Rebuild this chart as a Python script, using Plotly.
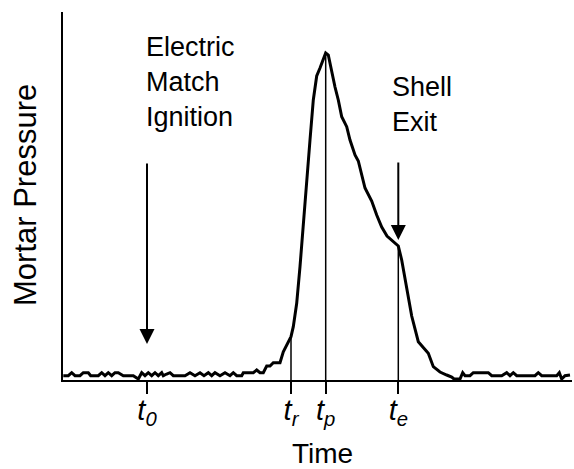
import numpy as np
import plotly.graph_objects as go

# Time (arbitrary units) and mortar pressure (arbitrary units)
time = [0.3, 5.3, 8.7, 12, 17, 20.3, 25.3, 27.7, 35.3, 38.7, 42, 45.3, 48.7, 52, 55.3,
        60.3, 70.3, 75.3, 78.7, 82, 85.3, 88.7, 92, 95.3, 98.7, 100.3, 103.7, 107, 110.3,
        122, 127, 132, 137, 141, 145.3, 148.7, 152, 157, 162, 167, 170.3, 173.7, 178.7,
        180.3, 190.3, 193.7, 197, 200.3, 203.7, 207, 210.3, 217, 220.3, 225.3, 228,
        230.3, 233.7, 237, 240.3, 243.7, 247, 250.3, 253.7, 257, 260.3, 262.7, 265.3,
        268.7, 272, 275.3, 278.7, 283.7, 287, 292, 295.3, 302, 308.7, 313.7, 318.7, 324,
        330, 335.3, 338.7, 343.7, 348.7, 355.3, 365.3, 370.3, 377, 383.7, 388.7, 391,
        397, 399.7, 402, 407, 410.3, 425.3, 428.7, 438.7, 443.7, 447, 450.3, 453.7, 472,
        475.3, 478.7, 493.7, 496.3, 498.7, 502, 507]
pressure = [4.3, 4.3, 7.3, 4.3, 4.3, 7.3, 7.3, 4.3, 4.3, 7.3, 4.3, 7.3, 4.3, 7.3, 7.3,
            4.3, 4.3, 1.0, 7.3, 4.3, 7.3, 4.3, 7.3, 4.3, 7.3, 4.3, 6.0, 7.3, 4.3,
            4.3, 7.3, 4.3, 7.3, 4.3, 7.3, 4.3, 7.3, 4.3, 7.3, 4.3, 7.3, 4.3, 4.3,
            7.3, 7.3, 10, 7.3, 7.3, 14, 14, 17.3, 17.3, 28.3, 38.3, 43.3,
            53.3, 76.7, 113.3, 155, 207, 240, 280, 304, 312, 320, 327, 325,
            308, 293, 280, 263.3, 253.3, 240, 225, 219, 192, 179, 165, 153, 144,
            139, 134, 120, 92, 64, 38.3, 26.7, 13.3, 8, 5, 3, 1,
            1, 7.3, 4.3, 4.3, 7.3, 7.3, 4.3, 4.3, 7.3, 4.3, 7.3, 4.3, 4.3,
            7.3, 4.3, 4.3, 7.3, 1.0, 4.3, 5]

# Event times
event_times = [84, 228, 262.7, 335.3]
event_labels = ["<i>t</i><sub><i>0</i></sub>", "<i>t</i><sub><i>r</i></sub>",
                "<i>t</i><sub><i>p</i></sub>", "<i>t</i><sub><i>e</i></sub>"]
marked_events = [228, 262.7, 335.3]  # events with a drop line from the curve

annot_texts = ["Electric<br>Match<br>Ignition", "Shell<br>Exit"]
x_title = "Time"
y_title = "Mortar Pressure"

FONT = "Arial, Liberation Sans, sans-serif"

fig = go.Figure()
fig.add_trace(go.Scatter(x=time, y=pressure, mode="lines",
                         line=dict(color="black", width=3), hoverinfo="skip"))

# drop lines from curve to axis
for t in marked_events:
    yv = float(np.interp(t, time, pressure))
    fig.add_shape(type="line", xref="x", yref="y", x0=t, x1=t, y0=0, y1=yv,
                  line=dict(color="black", width=1.5))

# arrows
fig.add_annotation(x=event_times[0], y=36, ax=event_times[0], ay=218,
                   xref="x", yref="y", axref="x", ayref="y", text="",
                   showarrow=True, arrowhead=2, arrowsize=1.5, arrowwidth=2,
                   arrowcolor="black")
fig.add_annotation(x=event_times[3], y=140, ax=event_times[3], ay=219,
                   xref="x", yref="y", axref="x", ayref="y", text="",
                   showarrow=True, arrowhead=2, arrowsize=1.5, arrowwidth=2,
                   arrowcolor="black")

# text labels
fig.add_annotation(x=81, y=350, xref="x", yref="y", text=annot_texts[0],
                   showarrow=False, xanchor="left", yanchor="top", align="left",
                   font=dict(family=FONT, size=27, color="black"))
fig.add_annotation(x=327, y=310, xref="x", yref="y", text=annot_texts[1],
                   showarrow=False, xanchor="left", yanchor="top", align="left",
                   font=dict(family=FONT, size=27, color="black"))

# axis titles
fig.add_annotation(x=(322 - 63) / 509, y=(380 - 453) / 368, xref="paper", yref="paper",
                   text=x_title, showarrow=False, xanchor="center", yanchor="middle",
                   font=dict(family=FONT, size=28, color="black"))
fig.add_annotation(x=(25 - 63) / 509, y=(380 - 195) / 368, xref="paper", yref="paper",
                   text=y_title, showarrow=False, xanchor="center", yanchor="middle",
                   textangle=-90, font=dict(family=FONT, size=31, color="black"))

fig.update_layout(
    width=574, height=469,
    margin=dict(l=63, r=2, t=12, b=89, autoexpand=False),
    paper_bgcolor="white", plot_bgcolor="white",
    showlegend=False,
    font=dict(family=FONT, color="black"),
    xaxis=dict(range=[0, 509], showgrid=False, zeroline=False, automargin=False,
               showline=True, linecolor="black", linewidth=2,
               ticks="outside", ticklen=12, tickwidth=2, tickcolor="black",
               tickvals=event_times, ticktext=event_labels,
               ticklabelstandoff=-9,
               tickfont=dict(family=FONT, size=29, color="black")),
    yaxis=dict(range=[0, 368], showgrid=False, zeroline=False, automargin=False,
               showline=True, linecolor="black", linewidth=2,
               showticklabels=False, ticks=""),
)

fig.write_html("out.html", config={"displayModeBar": False},
               post_script="document.body.style.margin='0';document.body.style.padding='0';")
